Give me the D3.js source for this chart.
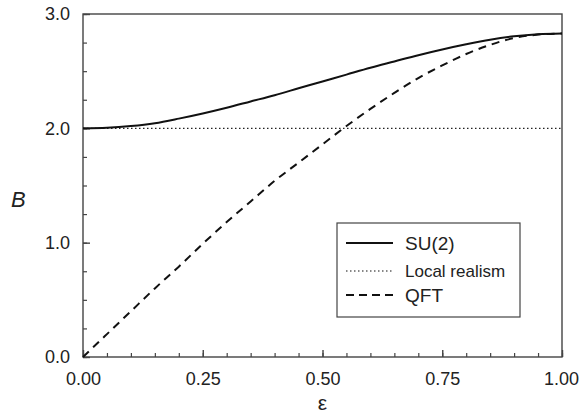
<!DOCTYPE html>
<html>
<head>
<meta charset="utf-8">
<script src="https://cdn.jsdelivr.net/npm/d3@7"></script>
<style>
  body { margin: 0; background: #fff; }
  svg { font-family: "Liberation Sans", Arial, sans-serif; }
</style>
</head>
<body>
<div id="chart"></div>
<script>
    // values
    const eps = [0, 0.05, 0.10, 0.15, 0.20, 0.25, 0.30, 0.35, 0.40, 0.45, 0.50,
                 0.55, 0.60, 0.65, 0.70, 0.75, 0.80, 0.85, 0.90, 0.95, 1.00];
    const su2 = [2.00, 2.005, 2.02, 2.045, 2.085, 2.13, 2.18, 2.235, 2.29, 2.35, 2.41,
                 2.47, 2.53, 2.585, 2.64, 2.69, 2.735, 2.775, 2.805, 2.823, 2.83];
    const qft = [0.00, 0.20, 0.40, 0.60, 0.79, 0.99, 1.18, 1.36, 1.54, 1.70, 1.86,
                 2.02, 2.17, 2.31, 2.44, 2.55, 2.65, 2.73, 2.79, 2.82, 2.83];
    const localRealism = [2.0, 2.0];
    const localEps = [0, 1];

    const xTicks = [0, 0.25, 0.5, 0.75, 1.0];
    const yTicks = [0, 1, 2, 3];
    const legendLabels = ["SU(2)", "Local realism", "QFT"];

    const width = 579, height = 419;
    const margin = { top: 14, right: 17, bottom: 62, left: 83 };

    const svg = d3.select("#chart").append("svg")
        .attr("width", width)
        .attr("height", height);

    const x = d3.scaleLinear().domain([0, 1]).range([margin.left, width - margin.right]);
    const y = d3.scaleLinear().domain([0, 3]).range([height - margin.bottom, margin.top]);

    const axisColor = "#444";

    // frame
    svg.append("rect")
        .attr("x", x(0)).attr("y", y(3))
        .attr("width", x(1) - x(0)).attr("height", y(0) - y(3))
        .attr("fill", "none").attr("stroke", axisColor).attr("stroke-width", 1.4);

    // bottom axis, ticks inward
    const xAxis = svg.append("g")
        .attr("transform", "translate(0," + y(0) + ")")
        .call(d3.axisBottom(x).tickValues(xTicks).tickSize(-7).tickPadding(15)
            .tickFormat(d3.format(".2f")));
    xAxis.select(".domain").remove();
    xAxis.selectAll(".tick line").attr("stroke", axisColor).attr("stroke-width", 1.4);
    xAxis.selectAll("text").attr("font-size", 18).attr("fill", "#222").attr("font-family", null);
    xAxis.selectAll("text").filter(d => d === 1).attr("dx", -1);

    svg.append("g")
        .attr("transform", "translate(0," + y(0) + ")")
        .call(d3.axisBottom(x).tickValues(d3.range(0, 1.0001, 0.05)).tickSize(-4).tickFormat(""))
        .call(g => g.select(".domain").remove())
        .selectAll(".tick line").attr("stroke", axisColor).attr("stroke-width", 1.2);

    // left axis, ticks inward
    const yAxis = svg.append("g")
        .attr("transform", "translate(" + x(0) + ",0)")
        .call(d3.axisLeft(y).tickValues(yTicks).tickSize(-7).tickPadding(13)
            .tickFormat(d3.format(".1f")));
    yAxis.select(".domain").remove();
    yAxis.selectAll(".tick line").attr("stroke", axisColor).attr("stroke-width", 1.4);
    yAxis.selectAll("text").attr("font-size", 18).attr("fill", "#222").attr("font-family", null);

    svg.append("g")
        .attr("transform", "translate(" + x(0) + ",0)")
        .call(d3.axisLeft(y).tickValues(d3.range(0, 3.0001, 0.25)).tickSize(-4).tickFormat(""))
        .call(g => g.select(".domain").remove())
        .selectAll(".tick line").attr("stroke", axisColor).attr("stroke-width", 1.2);

    // axis titles
    svg.append("text")
        .attr("x", x(0.5)).attr("y", 410)
        .attr("text-anchor", "middle")
        .attr("font-size", 21).attr("fill", "#222")
        .text("ε");

    svg.append("text")
        .attr("x", 11).attr("y", 207)
        .attr("font-size", 22).attr("font-style", "italic").attr("fill", "#222")
        .text("B");

    // curves
    const line = d3.line()
        .x(d => x(d[0]))
        .y(d => y(d[1]))
        .curve(d3.curveMonotoneX);

    svg.append("path")
        .datum(localEps.map((e, i) => [e, localRealism[i]]))
        .attr("d", line)
        .attr("fill", "none").attr("stroke", "#222").attr("stroke-width", 1.2)
        .attr("stroke-dasharray", "1.5,2.5");

    svg.append("path")
        .datum(eps.map((e, i) => [e, qft[i]]))
        .attr("d", line)
        .attr("fill", "none").attr("stroke", "#111").attr("stroke-width", 2)
        .attr("stroke-dasharray", "8,6");

    svg.append("path")
        .datum(eps.map((e, i) => [e, su2[i]]))
        .attr("d", line)
        .attr("fill", "none").attr("stroke", "#111").attr("stroke-width", 2);

    // legend
    const legend = svg.append("g");
    legend.append("rect")
        .attr("x", 337).attr("y", 223)
        .attr("width", 183).attr("height", 94)
        .attr("fill", "#fff").attr("stroke", axisColor).attr("stroke-width", 1.2);

    const dashes = [null, "1.5,2.5", "8,5"];
    const widths = [2, 1.2, 2];
    const sizes = [19, 17, 19];
    const rowY = [243, 271, 295];

    legendLabels.forEach((lab, i) => {
        legend.append("line")
            .attr("x1", 346).attr("x2", 393)
            .attr("y1", rowY[i]).attr("y2", rowY[i])
            .attr("stroke", "#111").attr("stroke-width", widths[i])
            .attr("stroke-dasharray", dashes[i]);
        legend.append("text")
            .attr("x", 405).attr("y", rowY[i])
            .attr("dy", "0.35em")
            .attr("font-size", sizes[i]).attr("fill", "#222")
            .text(lab);
    });
</script>
</body>
</html>
